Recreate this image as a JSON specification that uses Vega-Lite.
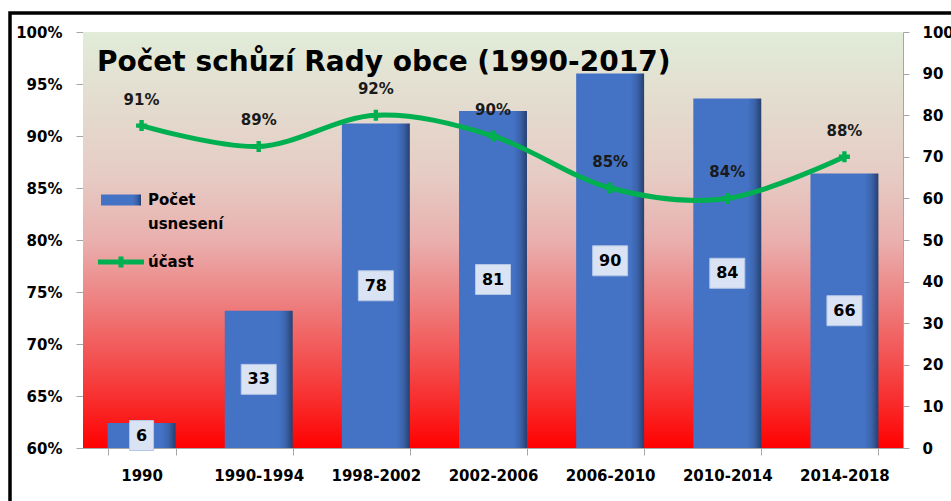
{
  "$schema": "https://vega.github.io/schema/vega-lite/v6.json",
  "width": 820,
  "height": 416,
  "autosize": "none",
  "padding": {"left": 83, "top": 32, "right": 48, "bottom": 53},
  "background": "#ffffff",
  "title": {
    "text": "Počet schůzí Rady obce (1990-2017)",
    "anchor": "start",
    "frame": "group",
    "font": "DejaVu Sans",
    "fontSize": 28,
    "fontWeight": "bold",
    "color": "#000000",
    "offset": -66,
    "dx": 14
  },
  "data": {
    "values": [
      {"period": "1990", "count": 6, "pct": 0.91},
      {"period": "1990-1994", "count": 33, "pct": 0.89},
      {"period": "1998-2002", "count": 78, "pct": 0.92},
      {"period": "2002-2006", "count": 81, "pct": 0.90},
      {"period": "2006-2010", "count": 90, "pct": 0.85},
      {"period": "2010-2014", "count": 84, "pct": 0.84},
      {"period": "2014-2018", "count": 66, "pct": 0.88}
    ]
  },
  "layer": [
    {
      "data": {"values": [{"bg": 1}]},
      "mark": {
        "type": "rect",
        "color": {
          "gradient": "linear", "x1": 0, "y1": 0, "x2": 0, "y2": 1,
          "stops": [
            {"offset": 0, "color": "#e1ecd9"},
            {"offset": 0.35, "color": "#e6cbc4"},
            {"offset": 0.5, "color": "#e9b0ae"},
            {"offset": 0.65, "color": "#ee7f7f"},
            {"offset": 0.8, "color": "#f44c4c"},
            {"offset": 0.92, "color": "#fa2020"},
            {"offset": 1, "color": "#ff0000"}
          ]
        }
      },
      "encoding": {}
    },
    {
      "mark": {
        "type": "bar",
        "strokeWidth": 0,
        "color": {
          "gradient": "linear", "x1": 0, "y1": 0, "x2": 1, "y2": 0,
          "stops": [
            {"offset": 0, "color": "#4472c4"},
            {"offset": 0.8, "color": "#4472c4"},
            {"offset": 0.9, "color": "#3b63aa"},
            {"offset": 1, "color": "#26406f"}
          ]
        }
      },
      "encoding": {
        "x": {
          "field": "period", "type": "nominal", "sort": null, "title": null,
          "scale": {"paddingInner": 0.42, "paddingOuter": 0.21},
          "axis": {"orient": "bottom", "tickBand": "extent", "tickSize": 7, "labelPadding": 13, "labelAngle": 0}
        },
        "y": {
          "field": "count", "type": "quantitative", "title": null,
          "scale": {"domain": [0, 100]},
          "axis": {"orient": "right", "values": [0, 10, 20, 30, 40, 50, 60, 70, 80, 90, 100], "tickSize": 6, "labelPadding": 13}
        },
        "stroke": {
          "datum": "Počet usnesení", "type": "nominal",
          "scale": {"range": ["#4472c4"]},
          "legend": {
            "orient": "none", "legendX": 28, "legendY": 158, "padding": 0, "title": null,
            "symbolType": "M-2,-0.55H2V0.55H-2Z", "symbolSize": 400, "symbolStrokeWidth": 0,
            "labelFont": "DejaVu Sans", "labelFontSize": 15, "labelFontWeight": "bold", "labelColor": "#000000",
            "labelOffset": 17, "labelLimit": 300,
            "labelExpr": "'Počet'",
            "encode": {
              "symbols": {"update": {
                "fill": {"value": {"gradient": "linear", "x1": 0, "y1": 0, "x2": 1, "y2": 0,
                  "stops": [
                    {"offset": 0, "color": "#2d4e8c"},
                    {"offset": 0.5, "color": "#4472c4"},
                    {"offset": 0.85, "color": "#3a62a8"},
                    {"offset": 1, "color": "#2a4577"}
                  ]}},
                "stroke": {"value": "transparent"},
                "opacity": {"value": 1}
              }}
            }
          }
        }
      }
    },
    {
      "mark": {"type": "point", "filled": true, "size": 100, "opacity": 1, "fill": "#dae3f3", "stroke": "#b4c7e7", "strokeWidth": 1},
      "encoding": {
        "x": {"field": "period", "type": "nominal", "sort": null, "title": null,
          "scale": {"paddingInner": 0.42, "paddingOuter": 0.21},
          "axis": {"orient": "bottom", "tickBand": "extent", "tickSize": 7, "labelPadding": 13, "labelAngle": 0}},
        "y": {"field": "count", "type": "quantitative", "title": null, "scale": {"domain": [0, 200]}, "axis": null},
        "shape": {
          "condition": {"test": "datum.count < 10", "value": "M-2.4,-3H2.4V3H-2.4Z"},
          "value": "M-3.5,-3H3.5V3H-3.5Z"
        }
      }
    },
    {
      "mark": {"type": "text", "font": "DejaVu Sans", "fontSize": 16, "fontWeight": "bold", "color": "#000000", "baseline": "middle", "align": "center", "strokeWidth": 0},
      "encoding": {
        "x": {"field": "period", "type": "nominal", "sort": null, "title": null,
          "scale": {"paddingInner": 0.42, "paddingOuter": 0.21},
          "axis": {"orient": "bottom", "tickBand": "extent", "tickSize": 7, "labelPadding": 13, "labelAngle": 0}},
        "y": {"field": "count", "type": "quantitative", "title": null, "scale": {"domain": [0, 200]}, "axis": null},
        "text": {"field": "count", "type": "quantitative"},
        "stroke": {
          "datum": "usnesení", "type": "nominal",
          "scale": {"range": ["transparent"]},
          "legend": {
            "orient": "none", "legendX": 28, "legendY": 182, "padding": 0, "title": null,
            "symbolType": "M-2,-0.55H2V0.55H-2Z", "symbolSize": 400, "symbolOpacity": 0, "symbolStrokeWidth": 0,
            "labelFont": "DejaVu Sans", "labelFontSize": 15, "labelFontWeight": "bold", "labelColor": "#000000",
            "labelOffset": 17, "labelLimit": 300,
            "encode": {"symbols": {"update": {"opacity": {"value": 0}}}}
          }
        }
      }
    },
    {
      "mark": {"type": "line", "interpolate": "cardinal", "strokeWidth": 5, "strokeCap": "round"},
      "encoding": {
        "x": {"field": "period", "type": "nominal", "sort": null, "title": null,
          "scale": {"paddingInner": 0.42, "paddingOuter": 0.21},
          "axis": {"orient": "bottom", "tickBand": "extent", "tickSize": 7, "labelPadding": 13, "labelAngle": 0}},
        "y": {
          "field": "pct", "type": "quantitative", "title": null,
          "scale": {"domain": [0.6, 1.0], "zero": false},
          "axis": {"orient": "left", "format": ".0%", "values": [0.6, 0.65, 0.7, 0.75, 0.8, 0.85, 0.9, 0.95, 1.0], "tickSize": 7, "labelPadding": 14}
        },
        "color": {
          "datum": "účast", "type": "nominal",
          "scale": {"range": ["#00b050"]},
          "legend": {
            "orient": "none", "legendX": 28, "legendY": 220, "title": null, "padding": 0,
            "symbolType": "M-2.3,-0.25H-0.25V-0.55H0.25V-0.25H2.3V0.25H0.25V0.55H-0.25V0.25H-2.3Z",
            "symbolSize": 400, "symbolStrokeWidth": 0,
            "labelFont": "DejaVu Sans", "labelFontSize": 15, "labelFontWeight": "bold", "labelColor": "#000000",
            "labelOffset": 17,
            "encode": {
              "symbols": {"update": {"fill": {"value": "#00b050"}, "stroke": {"value": "transparent"}, "opacity": {"value": 1}}}
            }
          }
        }
      }
    },
    {
      "mark": {"type": "point", "shape": "cross", "filled": true, "size": 121, "opacity": 1, "color": "#00b050", "strokeWidth": 0},
      "encoding": {
        "x": {"field": "period", "type": "nominal", "sort": null, "title": null,
          "scale": {"paddingInner": 0.42, "paddingOuter": 0.21},
          "axis": {"orient": "bottom", "tickBand": "extent", "tickSize": 7, "labelPadding": 13, "labelAngle": 0}},
        "y": {"field": "pct", "type": "quantitative", "title": null, "scale": {"domain": [0.6, 1.0], "zero": false}, "axis": null},
        "strokeDash": {
          "datum": "frame", "type": "nominal",
          "scale": {"range": [[1, 0]]},
          "legend": {
            "orient": "none", "legendX": -73, "legendY": -19, "title": null, "padding": 700,
            "strokeColor": "#000000", "fillColor": null,
            "symbolOpacity": 0, "labelExpr": "''", "symbolSize": 1,
            "encode": {
              "legend": {"update": {"stroke": {"value": "#000000"}, "strokeWidth": {"value": 3.5}}}
            }
          }
        }
      }
    },
    {
      "mark": {"type": "text", "font": "DejaVu Sans", "fontSize": 15, "fontWeight": "bold", "color": "#1a1a1a", "baseline": "middle", "align": "center", "dy": -26},
      "encoding": {
        "x": {"field": "period", "type": "nominal", "sort": null, "title": null,
          "scale": {"paddingInner": 0.42, "paddingOuter": 0.21},
          "axis": {"orient": "bottom", "tickBand": "extent", "tickSize": 7, "labelPadding": 13, "labelAngle": 0}},
        "y": {"field": "pct", "type": "quantitative", "title": null, "scale": {"domain": [0.6, 1.0], "zero": false}, "axis": null},
        "text": {"field": "pct", "type": "quantitative", "format": ".0%"}
      }
    }
  ],
  "resolve": {
    "scale": {"y": "independent", "color": "independent", "stroke": "independent", "shape": "independent", "strokeDash": "independent"},
    "axis": {"y": "independent"},
    "legend": {"stroke": "independent"}
  },
  "config": {
    "view": {"stroke": null},
    "legend": {"strokeWidth": 3.5},
    "axis": {
      "labelFont": "DejaVu Sans", "labelFontSize": 15, "labelFontWeight": "bold", "labelColor": "#000000",
      "domainColor": "#a6a6a6", "tickColor": "#a6a6a6", "grid": false
    },
    "text": {"font": "DejaVu Sans"}
  }
}
